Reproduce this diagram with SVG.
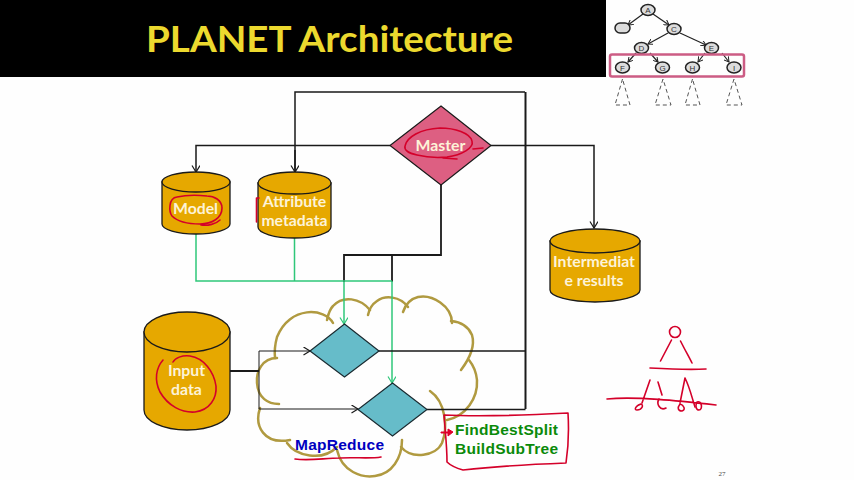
<svg xmlns="http://www.w3.org/2000/svg" width="854" height="480" viewBox="0 0 854 480">
<style>
text{font-family:"Lato","Liberation Sans",sans-serif}
.w{fill:#fdf3d8;font-size:15.800px;font-weight:700;text-anchor:middle}
.cyl{fill:#e6a800;stroke:#1a1a1a;stroke-width:1.3}
.blk{fill:none;stroke:#1a1a1a;stroke-width:1.5}
.grn{fill:none;stroke:#2fc77a;stroke-width:1.5}
.red{fill:none;stroke:#d4002a;stroke-width:1.6;stroke-linecap:round;stroke-linejoin:round}
.cl{fill:none;stroke:#b09a40;stroke-width:2.500;stroke-linecap:round}
.dia{fill:#66bcc9;stroke:#1a2a30;stroke-width:1.2}
.tn{fill:#dcdcdc;stroke:#222;stroke-width:1.5}
.tl{fill:none;stroke:#222;stroke-width:1.2}
.td{fill:none;stroke:#555;stroke-width:1;stroke-dasharray:4 3}
.tt{font-family:"Liberation Sans",sans-serif;font-size:8px;fill:#333;text-anchor:middle}
</style>
<defs>
<marker id="a" markerWidth="9" markerHeight="9" refX="7.500" refY="4" orient="auto" markerUnits="userSpaceOnUse"><path d="M1 0L7.500 4L1 8" fill="none" stroke="#1a1a1a" stroke-width="1.2"/></marker>
<marker id="g" markerWidth="9" markerHeight="9" refX="7.500" refY="4" orient="auto" markerUnits="userSpaceOnUse"><path d="M1 0L7.500 4L1 8" fill="none" stroke="#2fc77a" stroke-width="1.2"/></marker>
<marker id="t" markerWidth="6" markerHeight="6" refX="5" refY="3" orient="auto" markerUnits="userSpaceOnUse"><path d="M0 0L5 3L0 6" fill="none" stroke="#222" stroke-width="1"/></marker>
</defs>
<rect width="854" height="480" fill="#fefefe"/>
<g id="title"><rect width="606" height="77" fill="#000"/>
<text x="146" y="52" font-size="37" font-weight="700" fill="#ecd92e" textLength="367" lengthAdjust="spacingAndGlyphs">PLANET Architecture</text></g>
<g id="cloud">
<path class="cl" d="M333 323C325 308 290 305 277 337Q274 348 275 358"/>
<path class="cl" d="M277 358C262 358 256 372 257 383C258 398 268 404 279 404"/>
<path class="cl" d="M260 408C254 426 264 445 290 440"/>
<path class="cl" d="M287 443C296 456 322 462 337 447"/>
<path class="cl" d="M337 450C342 472 362 478 375 476C392 474 402 458 402 440"/>
<path class="cl" d="M401 447C412 460 436 456 442 443C448 428 446 402 430 391"/>
<path class="cl" d="M447 420C466 416 478 398 477 380C476 370 473 365 469 360"/>
<path class="cl" d="M461 370C470 358 475 345 472 335C469 328 462 322 451 321"/>
<path class="cl" d="M452 323C452 306 432 294 418 297C410 299 405 306 403 312"/>
<path class="cl" d="M408 307C400 296 385 295 377 301C371 305 369 310 368 315"/>
<path class="cl" d="M370 310C360 298 343 295 333 306C329 310 328 316 327 320"/>
</g>
<g id="connectors">
<path class="blk" d="M295 172V92H525"/>
<path class="blk" style="stroke-width:2" d="M525.500 92V409"/>
<path class="blk" marker-end="url(#a)" d="M295 150V172"/>
<path class="blk" marker-end="url(#a)" d="M390 145.500H196V172"/>
<path class="blk" marker-end="url(#a)" d="M491 145.500H594V228"/>
<path class="blk" style="stroke-width:1.800" d="M441 185V255H344V282M392 255V282"/>
<path class="grn" d="M196 234V281H392M294.500 238V281"/>
<path class="grn" marker-end="url(#g)" d="M344 282V324"/>
<path class="grn" marker-end="url(#g)" d="M392 281V383"/>
<path class="blk" style="stroke-width:2" d="M230 371H259"/>
<path class="blk" style="stroke-width:1" marker-end="url(#a)" d="M259 371V351H310"/>
<path class="blk" style="stroke-width:1" marker-end="url(#a)" d="M259 371V409H358"/>
<path class="blk" d="M379 351H525.500M427 409.500H525.500"/>
</g>
<g id="master"><path d="M441 106L491 145.500L441 185L390 145.500Z" fill="#dd5f82" stroke="#1a1a1a" stroke-width="1.2"/>
<text class="w" x="440.500" y="151">Master</text>
<path class="red" d="M417 155C408 153 404 150 405 146C407 137 420 129 440 128C455 128 470 133 472 141C474 148 462 155 447 157C436 158 425 157 417 155M483 148L473 149M443 158L457 159"/></g>
<g id="model"><path class="cyl" d="M162 182V224A34 10 0 0 0 230 224V182Z"/><ellipse class="cyl" cx="196" cy="182" rx="34" ry="10"/>
<text class="w" x="195.500" y="214">Model</text>
<path class="red" d="M177 197C168 198 169 212 172 216C178 222 190 224 200 224C212 224 222 218 222 208C222 200 214 196 207 196C197 195 186 195 177 197M201 225C208 226 216 224 220 220"/></g>
<g id="attribute"><path class="cyl" d="M258 183V227A36.500 11 0 0 0 331 227V183Z"/><ellipse class="cyl" cx="294.500" cy="183" rx="36.500" ry="11"/>
<text class="w" x="294.500" y="207">Attribute</text><text class="w" x="294.500" y="226">metadata</text>
<path class="red" d="M259 198H256.500V222"/></g>
<g id="intermediate"><path class="cyl" d="M550 241V290A45 12 0 0 0 640 290V241Z"/><ellipse class="cyl" cx="595" cy="241" rx="45" ry="12"/>
<text class="w" x="594" y="267">Intermediat</text><text class="w" x="594" y="286">e results</text></g>
<g id="input"><path class="cyl" d="M144 332V410A43 20 0 0 0 230 410V332Z"/><ellipse class="cyl" cx="187" cy="332" rx="43" ry="20"/>
<text class="w" x="186.500" y="376">Input</text><text class="w" x="186.500" y="395">data</text>
<path class="red" d="M163 360C156 368 154 380 160 392C168 406 182 413 195 412C210 410 217 398 216 386C214 372 204 358 190 356C182 355 175 358 173 362"/></g>
<g id="map1"><path class="dia" d="M344.500 324L379 351L344.500 377L310 351Z"/></g>
<g id="map2"><path class="dia" d="M392.500 383L427 409.500L392.500 436L358 409.500Z"/></g>
<g id="mapreduce"><text x="295" y="450" font-size="15.500" font-weight="700" fill="#0000c0" style="font-family:'Liberation Sans',sans-serif" textLength="89">MapReduce</text>
<path class="red" d="M295 459C310 461 325 458 340 458C355 457 370 459 381 457"/></g>
<g id="funcs"><text x="455" y="435" font-size="15.500" font-weight="700" fill="#0a8a0a" style="font-family:'Liberation Sans',sans-serif" textLength="103">FindBestSplit</text>
<text x="455" y="454" font-size="15.500" font-weight="700" fill="#0a8a0a" style="font-family:'Liberation Sans',sans-serif" textLength="103">BuildSubTree</text>
<path class="red" d="M444 415C480 417 530 415 568 413C569 430 568 450 566 463C540 464 490 467 463 470C456 468 450 465 447 462C447 445 445 430 444 415Z"/>
<path d="M441 432H448V429L453 432L448 436V433H441Z" fill="#e0002a" stroke="#e0002a"/></g>
<g id="tree">
<path class="tl" marker-end="url(#t)" d="M643 14L628 25"/><path class="tl" marker-end="url(#t)" d="M653 14L669 25"/>
<path class="tl" marker-end="url(#t)" d="M668 33L648 44"/><path class="tl" marker-end="url(#t)" d="M680 33L706 45"/>
<path class="tl" marker-end="url(#t)" d="M636 53L628 62"/><path class="tl" marker-end="url(#t)" d="M650 53L658 62"/>
<path class="tl" marker-end="url(#t)" d="M705 53L698 62"/><path class="tl" marker-end="url(#t)" d="M722 53L729 62"/>
<ellipse class="tn" cx="648" cy="10" rx="7" ry="5.500"/><rect class="tn" x="615" y="23" width="15" height="10" rx="5"/>
<ellipse class="tn" cx="674" cy="29" rx="7" ry="5.500"/><ellipse class="tn" cx="641.500" cy="48" rx="7" ry="5.500"/><ellipse class="tn" cx="711.500" cy="48" rx="7" ry="5.500"/>
<ellipse class="tn" cx="622.500" cy="67.500" rx="7" ry="5.500"/><ellipse class="tn" cx="662.500" cy="67.500" rx="7" ry="5.500"/><ellipse class="tn" cx="692.500" cy="67.500" rx="7" ry="5.500"/><ellipse class="tn" cx="734" cy="67.500" rx="7" ry="5.500"/>
<text class="tt" x="648" y="13">A</text><text class="tt" x="674" y="32">C</text><text class="tt" x="641.500" y="51">D</text><text class="tt" x="711.500" y="51">E</text>
<text class="tt" x="622.500" y="70.500">F</text><text class="tt" x="662.500" y="70.500">G</text><text class="tt" x="692.500" y="70.500">H</text><text class="tt" x="734" y="70.500">I</text>
<rect x="610" y="54.500" width="134" height="22" rx="2" fill="none" stroke="#cc5c84" stroke-width="2.500"/>
<path class="td" d="M622.500 79L615 105H630ZM663 79L655 105H671ZM692.500 79L685 105H700ZM734 79L726 105H742Z"/>
</g>
<g id="sketch">
<circle class="red" cx="675" cy="332" r="5.500"/>
<path class="red" d="M671.500 340L660.500 361M680.500 341C685 350 689 357 692 363M650 368C668 369 688 370 706 369M650 380L642 403M658 382L662 395M685 378L680 403M685 378C690 388 692 398 695 407M607 399C635 396 680 401 716 405"/>
<path class="red" d="M641 404C635 406 634 410 637 410C642 410 644 405 641 404ZM659 399C656 404 660 411 666 408M680 404C677 408 678 411 682 411C686 410 684 405 680 404ZM697 402C695 406 696 410 699 410C703 410 702 400 697 402Z"/>
</g>
<text x="722" y="476" font-size="7" fill="#444" text-anchor="middle" style="font-family:'Liberation Serif',serif">27</text>
</svg>
